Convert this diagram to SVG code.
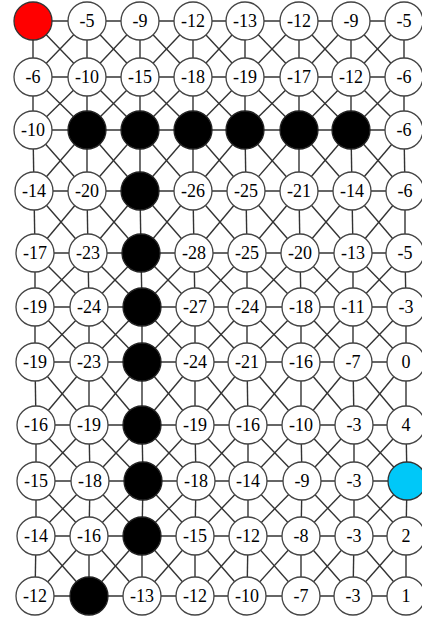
<svg xmlns="http://www.w3.org/2000/svg" width="422" height="620" viewBox="0 0 422 620">
<style>
.e path{stroke:#333;stroke-width:1.4;fill:none}
.n circle{stroke:#444;stroke-width:1.3;fill:#fff}
.n.b circle{fill:#000;stroke:#222}
.n.r circle{fill:#f00;stroke:#333}
.n.c circle{fill:#00c8f8;stroke:#333}
.n text{font-family:"Liberation Serif","Times New Roman",serif;font-size:18px;fill:#000;text-anchor:middle}
</style>
<rect width="422" height="620" fill="#fff"/>
<g id="connectors" class="e">
<path d="M33 21L87 21"/><path d="M87 21L140 21"/><path d="M140 21L193 21"/><path d="M193 21L245 21"/><path d="M245 21L299 21"/><path d="M299 21L351 21"/><path d="M351 21L404 21"/>
<path d="M33 77L87 77"/><path d="M87 77L140 77"/><path d="M140 77L193 77"/><path d="M193 77L245 77"/><path d="M245 77L299 77"/><path d="M299 77L351 77"/><path d="M351 77L404 77"/>
<path d="M33 130L87 130"/><path d="M87 130L140 130"/><path d="M140 130L193 130"/><path d="M193 130L245 130"/><path d="M245 130L299 130"/><path d="M299 130L351 130"/><path d="M351 130L404 130"/>
<path d="M34 191L87 191"/><path d="M87 191L140 191"/><path d="M140 191L193 191"/><path d="M193 191L246 191"/><path d="M246 191L299 191"/><path d="M299 191L352 191"/><path d="M352 191L405 191"/>
<path d="M35 253L88 253"/><path d="M88 253L141 253"/><path d="M141 253L194 253"/><path d="M194 253L247 253"/><path d="M247 253L300 253"/><path d="M300 253L353 253"/><path d="M353 253L405 253"/>
<path d="M35 307L89 307"/><path d="M89 307L142 307"/><path d="M142 307L195 307"/><path d="M195 307L247 307"/><path d="M247 307L301 307"/><path d="M301 307L353 307"/><path d="M353 307L406 307"/>
<path d="M35 362L89 362"/><path d="M89 362L142 362"/><path d="M142 362L195 362"/><path d="M195 362L247 362"/><path d="M247 362L301 362"/><path d="M301 362L353 362"/><path d="M353 362L406 362"/>
<path d="M36 425L89 425"/><path d="M89 425L142 425"/><path d="M142 425L195 425"/><path d="M195 425L248 425"/><path d="M248 425L301 425"/><path d="M301 425L354 425"/><path d="M354 425L406 425"/>
<path d="M36 481L90 481"/><path d="M90 481L143 481"/><path d="M143 481L196 481"/><path d="M196 481L248 481"/><path d="M248 481L302 481"/><path d="M302 481L354 481"/><path d="M354 481L407 481"/>
<path d="M36 536L89 536"/><path d="M89 536L142 536"/><path d="M142 536L195 536"/><path d="M195 536L248 536"/><path d="M248 536L301 536"/><path d="M301 536L354 536"/><path d="M354 536L406 536"/>
<path d="M35 596L89 596"/><path d="M89 596L142 596"/><path d="M142 596L195 596"/><path d="M195 596L247 596"/><path d="M247 596L301 596"/><path d="M301 596L353 596"/><path d="M353 596L406 596"/>
<path d="M33 21L33 77"/><path d="M87 21L87 77"/><path d="M140 21L140 77"/><path d="M193 21L193 77"/><path d="M245 21L245 77"/><path d="M299 21L299 77"/><path d="M351 21L351 77"/><path d="M404 21L404 77"/>
<path d="M33 77L33 130"/><path d="M87 77L87 130"/><path d="M140 77L140 130"/><path d="M193 77L193 130"/><path d="M245 77L245 130"/><path d="M299 77L299 130"/><path d="M351 77L351 130"/><path d="M404 77L404 130"/>
<path d="M33 130L34 191"/><path d="M87 130L87 191"/><path d="M140 130L140 191"/><path d="M193 130L193 191"/><path d="M245 130L246 191"/><path d="M299 130L299 191"/><path d="M351 130L352 191"/><path d="M404 130L405 191"/>
<path d="M34 191L35 253"/><path d="M87 191L88 253"/><path d="M140 191L141 253"/><path d="M193 191L194 253"/><path d="M246 191L247 253"/><path d="M299 191L300 253"/><path d="M352 191L353 253"/><path d="M405 191L405 253"/>
<path d="M35 253L35 307"/><path d="M88 253L89 307"/><path d="M141 253L142 307"/><path d="M194 253L195 307"/><path d="M247 253L247 307"/><path d="M300 253L301 307"/><path d="M353 253L353 307"/><path d="M405 253L406 307"/>
<path d="M35 307L35 362"/><path d="M89 307L89 362"/><path d="M142 307L142 362"/><path d="M195 307L195 362"/><path d="M247 307L247 362"/><path d="M301 307L301 362"/><path d="M353 307L353 362"/><path d="M406 307L406 362"/>
<path d="M35 362L36 425"/><path d="M89 362L89 425"/><path d="M142 362L142 425"/><path d="M195 362L195 425"/><path d="M247 362L248 425"/><path d="M301 362L301 425"/><path d="M353 362L354 425"/><path d="M406 362L406 425"/>
<path d="M36 425L36 481"/><path d="M89 425L90 481"/><path d="M142 425L143 481"/><path d="M195 425L196 481"/><path d="M248 425L248 481"/><path d="M301 425L302 481"/><path d="M354 425L354 481"/><path d="M406 425L407 481"/>
<path d="M36 481L36 536"/><path d="M90 481L89 536"/><path d="M143 481L142 536"/><path d="M196 481L195 536"/><path d="M248 481L248 536"/><path d="M302 481L301 536"/><path d="M354 481L354 536"/><path d="M407 481L406 536"/>
<path d="M36 536L35 596"/><path d="M89 536L89 596"/><path d="M142 536L142 596"/><path d="M195 536L195 596"/><path d="M248 536L247 596"/><path d="M301 536L301 596"/><path d="M354 536L353 596"/><path d="M406 536L406 596"/>
<path d="M33 21L87 77"/><path d="M87 21L140 77"/><path d="M140 21L193 77"/><path d="M193 21L245 77"/><path d="M245 21L299 77"/><path d="M299 21L351 77"/><path d="M351 21L404 77"/>
<path d="M87 21L33 77"/><path d="M140 21L87 77"/><path d="M193 21L140 77"/><path d="M245 21L193 77"/><path d="M299 21L245 77"/><path d="M351 21L299 77"/><path d="M404 21L351 77"/>
<path d="M33 77L87 130"/><path d="M87 77L140 130"/><path d="M140 77L193 130"/><path d="M193 77L245 130"/><path d="M245 77L299 130"/><path d="M299 77L351 130"/><path d="M351 77L404 130"/>
<path d="M87 77L33 130"/><path d="M140 77L87 130"/><path d="M193 77L140 130"/><path d="M245 77L193 130"/><path d="M299 77L245 130"/><path d="M351 77L299 130"/><path d="M404 77L351 130"/>
<path d="M33 130L87 191"/><path d="M87 130L140 191"/><path d="M140 130L193 191"/><path d="M193 130L246 191"/><path d="M245 130L299 191"/><path d="M299 130L352 191"/><path d="M351 130L405 191"/>
<path d="M87 130L34 191"/><path d="M140 130L87 191"/><path d="M193 130L140 191"/><path d="M245 130L193 191"/><path d="M299 130L246 191"/><path d="M351 130L299 191"/><path d="M404 130L352 191"/>
<path d="M34 191L88 253"/><path d="M87 191L141 253"/><path d="M140 191L194 253"/><path d="M193 191L247 253"/><path d="M246 191L300 253"/><path d="M299 191L353 253"/><path d="M352 191L405 253"/>
<path d="M87 191L35 253"/><path d="M140 191L88 253"/><path d="M193 191L141 253"/><path d="M246 191L194 253"/><path d="M299 191L247 253"/><path d="M352 191L300 253"/><path d="M405 191L353 253"/>
<path d="M35 253L89 307"/><path d="M88 253L142 307"/><path d="M141 253L195 307"/><path d="M194 253L247 307"/><path d="M247 253L301 307"/><path d="M300 253L353 307"/><path d="M353 253L406 307"/>
<path d="M88 253L35 307"/><path d="M141 253L89 307"/><path d="M194 253L142 307"/><path d="M247 253L195 307"/><path d="M300 253L247 307"/><path d="M353 253L301 307"/><path d="M405 253L353 307"/>
<path d="M35 307L89 362"/><path d="M89 307L142 362"/><path d="M142 307L195 362"/><path d="M195 307L247 362"/><path d="M247 307L301 362"/><path d="M301 307L353 362"/><path d="M353 307L406 362"/>
<path d="M89 307L35 362"/><path d="M142 307L89 362"/><path d="M195 307L142 362"/><path d="M247 307L195 362"/><path d="M301 307L247 362"/><path d="M353 307L301 362"/><path d="M406 307L353 362"/>
<path d="M35 362L89 425"/><path d="M89 362L142 425"/><path d="M142 362L195 425"/><path d="M195 362L248 425"/><path d="M247 362L301 425"/><path d="M301 362L354 425"/><path d="M353 362L406 425"/>
<path d="M89 362L36 425"/><path d="M142 362L89 425"/><path d="M195 362L142 425"/><path d="M247 362L195 425"/><path d="M301 362L248 425"/><path d="M353 362L301 425"/><path d="M406 362L354 425"/>
<path d="M36 425L90 481"/><path d="M89 425L143 481"/><path d="M142 425L196 481"/><path d="M195 425L248 481"/><path d="M248 425L302 481"/><path d="M301 425L354 481"/><path d="M354 425L407 481"/>
<path d="M89 425L36 481"/><path d="M142 425L90 481"/><path d="M195 425L143 481"/><path d="M248 425L196 481"/><path d="M301 425L248 481"/><path d="M354 425L302 481"/><path d="M406 425L354 481"/>
<path d="M36 481L89 536"/><path d="M90 481L142 536"/><path d="M143 481L195 536"/><path d="M196 481L248 536"/><path d="M248 481L301 536"/><path d="M302 481L354 536"/><path d="M354 481L406 536"/>
<path d="M90 481L36 536"/><path d="M143 481L89 536"/><path d="M196 481L142 536"/><path d="M248 481L195 536"/><path d="M302 481L248 536"/><path d="M354 481L301 536"/><path d="M407 481L354 536"/>
<path d="M36 536L89 596"/><path d="M89 536L142 596"/><path d="M142 536L195 596"/><path d="M195 536L247 596"/><path d="M248 536L301 596"/><path d="M301 536L353 596"/><path d="M354 536L406 596"/>
<path d="M89 536L35 596"/><path d="M142 536L89 596"/><path d="M195 536L142 596"/><path d="M248 536L195 596"/><path d="M301 536L247 596"/><path d="M354 536L301 596"/><path d="M406 536L353 596"/>
</g>
<g id="n0_0" class="n r"><circle cx="33" cy="21" r="19"/></g>
<g id="n0_1" class="n"><circle cx="87" cy="21" r="19"/><text x="87" y="27">-5</text></g>
<g id="n0_2" class="n"><circle cx="140" cy="21" r="19"/><text x="140" y="27">-9</text></g>
<g id="n0_3" class="n"><circle cx="193" cy="21" r="19"/><text x="193" y="27">-12</text></g>
<g id="n0_4" class="n"><circle cx="245" cy="21" r="19"/><text x="245" y="27">-13</text></g>
<g id="n0_5" class="n"><circle cx="299" cy="21" r="19"/><text x="299" y="27">-12</text></g>
<g id="n0_6" class="n"><circle cx="351" cy="21" r="19"/><text x="351" y="27">-9</text></g>
<g id="n0_7" class="n"><circle cx="404" cy="21" r="19"/><text x="404" y="27">-5</text></g>
<g id="n1_0" class="n"><circle cx="33" cy="77" r="19"/><text x="33" y="83">-6</text></g>
<g id="n1_1" class="n"><circle cx="87" cy="77" r="19"/><text x="87" y="83">-10</text></g>
<g id="n1_2" class="n"><circle cx="140" cy="77" r="19"/><text x="140" y="83">-15</text></g>
<g id="n1_3" class="n"><circle cx="193" cy="77" r="19"/><text x="193" y="83">-18</text></g>
<g id="n1_4" class="n"><circle cx="245" cy="77" r="19"/><text x="245" y="83">-19</text></g>
<g id="n1_5" class="n"><circle cx="299" cy="77" r="19"/><text x="299" y="83">-17</text></g>
<g id="n1_6" class="n"><circle cx="351" cy="77" r="19"/><text x="351" y="83">-12</text></g>
<g id="n1_7" class="n"><circle cx="404" cy="77" r="19"/><text x="404" y="83">-6</text></g>
<g id="n2_0" class="n"><circle cx="33" cy="130" r="19"/><text x="33" y="136">-10</text></g>
<g id="n2_1" class="n b"><circle cx="87" cy="130" r="19"/></g>
<g id="n2_2" class="n b"><circle cx="140" cy="130" r="19"/></g>
<g id="n2_3" class="n b"><circle cx="193" cy="130" r="19"/></g>
<g id="n2_4" class="n b"><circle cx="245" cy="130" r="19"/></g>
<g id="n2_5" class="n b"><circle cx="299" cy="130" r="19"/></g>
<g id="n2_6" class="n b"><circle cx="351" cy="130" r="19"/></g>
<g id="n2_7" class="n"><circle cx="404" cy="130" r="19"/><text x="404" y="136">-6</text></g>
<g id="n3_0" class="n"><circle cx="34" cy="191" r="19"/><text x="34" y="197">-14</text></g>
<g id="n3_1" class="n"><circle cx="87" cy="191" r="19"/><text x="87" y="197">-20</text></g>
<g id="n3_2" class="n b"><circle cx="140" cy="191" r="19"/></g>
<g id="n3_3" class="n"><circle cx="193" cy="191" r="19"/><text x="193" y="197">-26</text></g>
<g id="n3_4" class="n"><circle cx="246" cy="191" r="19"/><text x="246" y="197">-25</text></g>
<g id="n3_5" class="n"><circle cx="299" cy="191" r="19"/><text x="299" y="197">-21</text></g>
<g id="n3_6" class="n"><circle cx="352" cy="191" r="19"/><text x="352" y="197">-14</text></g>
<g id="n3_7" class="n"><circle cx="405" cy="191" r="19"/><text x="405" y="197">-6</text></g>
<g id="n4_0" class="n"><circle cx="35" cy="253" r="19"/><text x="35" y="259">-17</text></g>
<g id="n4_1" class="n"><circle cx="88" cy="253" r="19"/><text x="88" y="259">-23</text></g>
<g id="n4_2" class="n b"><circle cx="141" cy="253" r="19"/></g>
<g id="n4_3" class="n"><circle cx="194" cy="253" r="19"/><text x="194" y="259">-28</text></g>
<g id="n4_4" class="n"><circle cx="247" cy="253" r="19"/><text x="247" y="259">-25</text></g>
<g id="n4_5" class="n"><circle cx="300" cy="253" r="19"/><text x="300" y="259">-20</text></g>
<g id="n4_6" class="n"><circle cx="353" cy="253" r="19"/><text x="353" y="259">-13</text></g>
<g id="n4_7" class="n"><circle cx="405" cy="253" r="19"/><text x="405" y="259">-5</text></g>
<g id="n5_0" class="n"><circle cx="35" cy="307" r="19"/><text x="35" y="313">-19</text></g>
<g id="n5_1" class="n"><circle cx="89" cy="307" r="19"/><text x="89" y="313">-24</text></g>
<g id="n5_2" class="n b"><circle cx="142" cy="307" r="19"/></g>
<g id="n5_3" class="n"><circle cx="195" cy="307" r="19"/><text x="195" y="313">-27</text></g>
<g id="n5_4" class="n"><circle cx="247" cy="307" r="19"/><text x="247" y="313">-24</text></g>
<g id="n5_5" class="n"><circle cx="301" cy="307" r="19"/><text x="301" y="313">-18</text></g>
<g id="n5_6" class="n"><circle cx="353" cy="307" r="19"/><text x="353" y="313">-11</text></g>
<g id="n5_7" class="n"><circle cx="406" cy="307" r="19"/><text x="406" y="313">-3</text></g>
<g id="n6_0" class="n"><circle cx="35" cy="362" r="19"/><text x="35" y="368">-19</text></g>
<g id="n6_1" class="n"><circle cx="89" cy="362" r="19"/><text x="89" y="368">-23</text></g>
<g id="n6_2" class="n b"><circle cx="142" cy="362" r="19"/></g>
<g id="n6_3" class="n"><circle cx="195" cy="362" r="19"/><text x="195" y="368">-24</text></g>
<g id="n6_4" class="n"><circle cx="247" cy="362" r="19"/><text x="247" y="368">-21</text></g>
<g id="n6_5" class="n"><circle cx="301" cy="362" r="19"/><text x="301" y="368">-16</text></g>
<g id="n6_6" class="n"><circle cx="353" cy="362" r="19"/><text x="353" y="368">-7</text></g>
<g id="n6_7" class="n"><circle cx="406" cy="362" r="19"/><text x="406" y="368">0</text></g>
<g id="n7_0" class="n"><circle cx="36" cy="425" r="19"/><text x="36" y="431">-16</text></g>
<g id="n7_1" class="n"><circle cx="89" cy="425" r="19"/><text x="89" y="431">-19</text></g>
<g id="n7_2" class="n b"><circle cx="142" cy="425" r="19"/></g>
<g id="n7_3" class="n"><circle cx="195" cy="425" r="19"/><text x="195" y="431">-19</text></g>
<g id="n7_4" class="n"><circle cx="248" cy="425" r="19"/><text x="248" y="431">-16</text></g>
<g id="n7_5" class="n"><circle cx="301" cy="425" r="19"/><text x="301" y="431">-10</text></g>
<g id="n7_6" class="n"><circle cx="354" cy="425" r="19"/><text x="354" y="431">-3</text></g>
<g id="n7_7" class="n"><circle cx="406" cy="425" r="19"/><text x="406" y="431">4</text></g>
<g id="n8_0" class="n"><circle cx="36" cy="481" r="19"/><text x="36" y="487">-15</text></g>
<g id="n8_1" class="n"><circle cx="90" cy="481" r="19"/><text x="90" y="487">-18</text></g>
<g id="n8_2" class="n b"><circle cx="143" cy="481" r="19"/></g>
<g id="n8_3" class="n"><circle cx="196" cy="481" r="19"/><text x="196" y="487">-18</text></g>
<g id="n8_4" class="n"><circle cx="248" cy="481" r="19"/><text x="248" y="487">-14</text></g>
<g id="n8_5" class="n"><circle cx="302" cy="481" r="19"/><text x="302" y="487">-9</text></g>
<g id="n8_6" class="n"><circle cx="354" cy="481" r="19"/><text x="354" y="487">-3</text></g>
<g id="n8_7" class="n c"><circle cx="407" cy="481" r="19"/></g>
<g id="n9_0" class="n"><circle cx="36" cy="536" r="19"/><text x="36" y="542">-14</text></g>
<g id="n9_1" class="n"><circle cx="89" cy="536" r="19"/><text x="89" y="542">-16</text></g>
<g id="n9_2" class="n b"><circle cx="142" cy="536" r="19"/></g>
<g id="n9_3" class="n"><circle cx="195" cy="536" r="19"/><text x="195" y="542">-15</text></g>
<g id="n9_4" class="n"><circle cx="248" cy="536" r="19"/><text x="248" y="542">-12</text></g>
<g id="n9_5" class="n"><circle cx="301" cy="536" r="19"/><text x="301" y="542">-8</text></g>
<g id="n9_6" class="n"><circle cx="354" cy="536" r="19"/><text x="354" y="542">-3</text></g>
<g id="n9_7" class="n"><circle cx="406" cy="536" r="19"/><text x="406" y="542">2</text></g>
<g id="n10_0" class="n"><circle cx="35" cy="596" r="19"/><text x="35" y="602">-12</text></g>
<g id="n10_1" class="n b"><circle cx="89" cy="596" r="19"/></g>
<g id="n10_2" class="n"><circle cx="142" cy="596" r="19"/><text x="142" y="602">-13</text></g>
<g id="n10_3" class="n"><circle cx="195" cy="596" r="19"/><text x="195" y="602">-12</text></g>
<g id="n10_4" class="n"><circle cx="247" cy="596" r="19"/><text x="247" y="602">-10</text></g>
<g id="n10_5" class="n"><circle cx="301" cy="596" r="19"/><text x="301" y="602">-7</text></g>
<g id="n10_6" class="n"><circle cx="353" cy="596" r="19"/><text x="353" y="602">-3</text></g>
<g id="n10_7" class="n"><circle cx="406" cy="596" r="19"/><text x="406" y="602">1</text></g>
</svg>
